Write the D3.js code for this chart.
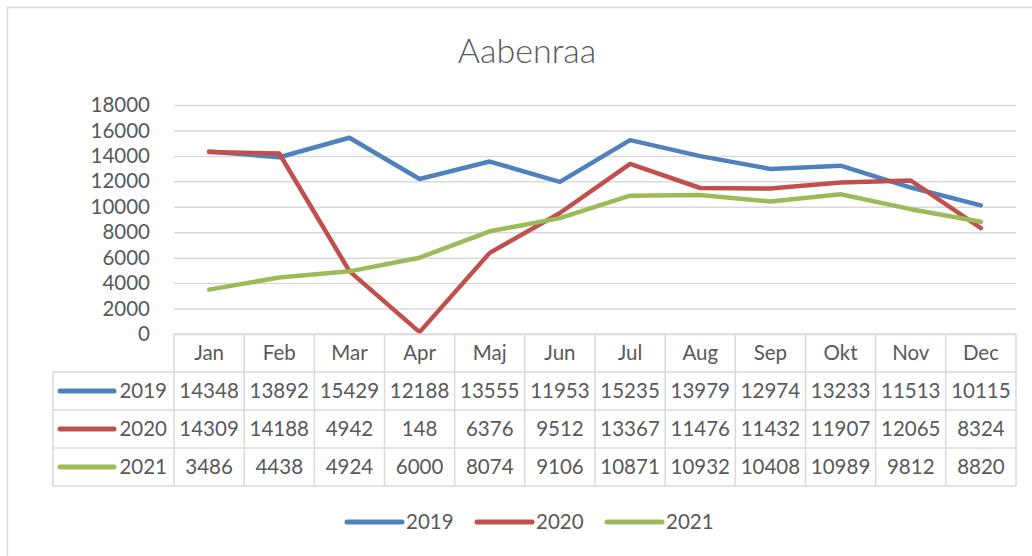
<!DOCTYPE html>
<html>
<head>
<meta charset="utf-8">
<script src="https://cdn.jsdelivr.net/npm/d3@7"></script>
<style>
  html, body { margin: 0; padding: 0; background: #fff; }
  svg { display: block; }
  text { font-family: Lato, "Open Sans", sans-serif; fill: #595959; }
</style>
</head>
<body>
<svg id="chart" width="1032" height="556"></svg>
<script>
const title = "Aabenraa";
const months = ["Jan","Feb","Mar","Apr","Maj","Jun","Jul","Aug","Sep","Okt","Nov","Dec"];
const seriesNames = ["2019","2020","2021"];
const values2019 = [14348,13892,15429,12188,13555,11953,15235,13979,12974,13233,11513,10115];
const values2020 = [14309,14188,4942,148,6376,9512,13367,11476,11432,11907,12065,8324];
const values2021 = [3486,4438,4924,6000,8074,9106,10871,10932,10408,10989,9812,8820];
const yTicks = [0,2000,4000,6000,8000,10000,12000,14000,16000,18000];
const colors = ["#4f81bd","#c0504d","#9bbb59"];

const series = [values2019, values2020, values2021].map((v, i) => ({name: seriesNames[i], values: v, color: colors[i]}));

const svg = d3.select("#chart");
const gridColor = "#d9d9d9";
const fs = "20.5px";

// outer chart border
svg.append("rect").attr("x", 7.5).attr("y", 7.5).attr("width", 1040).attr("height", 560)
  .attr("fill", "none").attr("stroke", gridColor).attr("stroke-width", 1.5);

// title
svg.append("text").attr("x", 527).attr("y", 63).attr("text-anchor", "middle")
  .style("font-size", "34px").style("font-weight", 300).text(title);

const x = d3.scaleBand().domain(months).range([174, 1016]);
const y = d3.scaleLinear().domain([0, 18000]).range([334, 105]);

// gridlines
const grid = svg.append("g").attr("transform", "translate(174,0)")
  .call(d3.axisLeft(y).tickValues(yTicks).tickSize(-(1016 - 174)).tickFormat(""));
grid.select(".domain").remove();
grid.selectAll("line").attr("stroke", gridColor).attr("stroke-width", 1.5);

// y axis labels
const yAxis = svg.append("g").attr("transform", "translate(154,0)")
  .call(d3.axisLeft(y).tickValues(yTicks).tickSize(0).tickPadding(4).tickFormat(d3.format("d")));
yAxis.select(".domain").remove();
yAxis.selectAll("text").style("font-size", fs).style("font-family", "Lato, 'Open Sans', sans-serif").attr("fill", "#595959");

// lines
const line = d3.line().x((d, i) => x(months[i]) + x.bandwidth() / 2).y(d => y(d));
svg.append("g").selectAll("path").data(series).join("path")
  .attr("d", d => line(d.values))
  .attr("fill", "none").attr("stroke", d => d.color).attr("stroke-width", 4.5)
  .attr("stroke-linejoin", "round").attr("stroke-linecap", "round");

// data table
const rowTop = 334, headerH = 38, rowH = 38, tableLeft = 53;
const rowY = i => rowTop + headerH + i * rowH;
const tbl = svg.append("g").attr("stroke", gridColor).attr("stroke-width", 1.5);
tbl.append("line").attr("x1", 174).attr("x2", 1016).attr("y1", rowTop).attr("y2", rowTop);
for (let i = 0; i <= series.length; i++) {
  tbl.append("line").attr("x1", tableLeft).attr("x2", 1016).attr("y1", rowY(i)).attr("y2", rowY(i));
}
tbl.selectAll("line.v").data(months.map(m => x(m)).concat([1016])).join("line")
  .attr("class", "v").attr("x1", d => d).attr("x2", d => d).attr("y1", rowTop).attr("y2", rowY(series.length));
tbl.append("line").attr("x1", tableLeft).attr("x2", tableLeft).attr("y1", rowY(0)).attr("y2", rowY(series.length));

// header text
svg.append("g").selectAll("text").data(months).join("text")
  .attr("x", d => x(d) + x.bandwidth() / 2).attr("y", rowTop + headerH / 2 + 7)
  .attr("text-anchor", "middle").style("font-size", fs).text(d => d);

// rows
series.forEach((s, i) => {
  const cy = rowY(i) + rowH / 2;
  svg.append("line").attr("x1", 60).attr("x2", 114).attr("y1", cy).attr("y2", cy)
    .attr("stroke", s.color).attr("stroke-width", 5).attr("stroke-linecap", "round");
  svg.append("text").attr("x", 167).attr("y", cy + 7).attr("text-anchor", "end")
    .style("font-size", fs).text(s.name);
  svg.append("g").selectAll("text").data(s.values).join("text")
    .attr("x", (d, j) => x(months[j]) + x.bandwidth() / 2).attr("y", cy + 7)
    .attr("text-anchor", "middle").style("font-size", fs).text(d => d);
});

// legend
const legendX = [347, 477, 607];
series.forEach((s, i) => {
  svg.append("line").attr("x1", legendX[i]).attr("x2", legendX[i] + 55).attr("y1", 522).attr("y2", 522)
    .attr("stroke", s.color).attr("stroke-width", 5).attr("stroke-linecap", "round");
  svg.append("text").attr("x", legendX[i] + 59).attr("y", 529).style("font-size", fs).text(s.name);
});
</script>
</body>
</html>
